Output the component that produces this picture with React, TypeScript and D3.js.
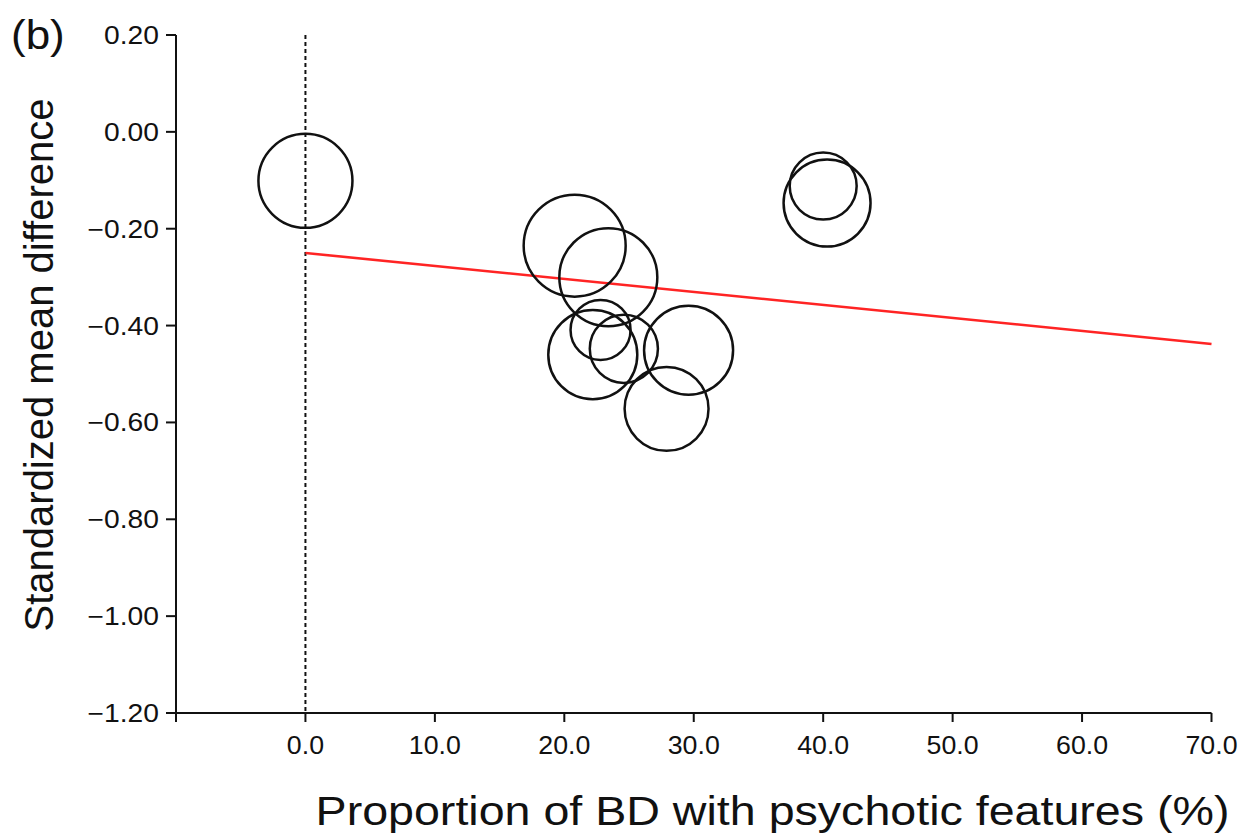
import React from "react";
import * as d3 from "d3";

const xTicks = [0, 10, 20, 30, 40, 50, 60, 70];
const yTicks = [0.2, 0, -0.2, -0.4, -0.6, -0.8, -1.0, -1.2];

// studies: proportion (%) with psychotic features, SMD, weight
const studyX = [0.0, 20.8, 23.4, 22.8, 22.2, 24.6, 29.6, 27.9, 40.0, 40.3];
const studyY = [-0.101, -0.235, -0.300, -0.409, -0.460, -0.448, -0.451, -0.572, -0.112, -0.147];
const studyW = [22.1, 26.0, 24.0, 9.0, 19.8, 11.6, 19.8, 17.6, 11.2, 18.9];

// meta-regression line
const regX = [0, 70];
const regY = [-0.25, -0.438];

const W = 1250;
const H = 836;

export default function App() {
  const x = d3.scaleLinear().domain([-10, 70]).range([176, 1211.5]);
  const y = d3.scaleLinear().domain([0.2, -1.2]).range([35, 713]);
  const r = d3.scaleSqrt().domain([0, 26]).range([0, 51]);
  const line = d3
    .line<number>()
    .x((_, i) => x(regX[i]))
    .y((d) => y(d));
  const fmtY = (v: number) => (v < 0 ? "\u2212" + Math.abs(v).toFixed(2) : v.toFixed(2));
  const font = "'Liberation Sans', Arial, Helvetica, sans-serif";

  return (
    <svg
      width={W}
      height={H}
      style={{ position: "absolute", left: 0, top: 0, background: "#fff" }}
      fontFamily={font}
    >
      <rect width={W} height={H} fill="#fff" />
      <g transform={`translate(11, 49) scale(1.1, 1)`}>
        <text x={0} y={0} fontSize={40} fill="#111">(b)</text>
      </g>

      {/* y axis */}
      <line x1={x(-10)} x2={x(-10)} y1={y(0.2)} y2={y(-1.2)} stroke="#111" strokeWidth={2} />
      {yTicks.map((t) => (
        <g key={"y" + t}>
          <line x1={x(-10) - 10} x2={x(-10)} y1={y(t)} y2={y(t)} stroke="#111" strokeWidth={2} />
          <g transform={`translate(159, ${y(t)}) scale(1.13, 1)`}>
            <text x={0} y={0} dy="0.36em" textAnchor="end" fontSize={25} fill="#111">
              {fmtY(t)}
            </text>
          </g>
        </g>
      ))}

      {/* x axis */}
      <line x1={x(-10)} x2={x(70)} y1={y(-1.2)} y2={y(-1.2)} stroke="#111" strokeWidth={2} />
      <line x1={x(-10)} x2={x(-10)} y1={y(-1.2)} y2={y(-1.2) + 9} stroke="#111" strokeWidth={2} />
      {xTicks.map((t) => (
        <g key={"x" + t}>
          <line x1={x(t)} x2={x(t)} y1={y(-1.2)} y2={y(-1.2) + 9} stroke="#111" strokeWidth={2} />
          <g transform={`translate(${x(t)}, 754) scale(1.07, 1)`}>
            <text x={0} y={0} textAnchor="middle" fontSize={25} fill="#111">
              {t.toFixed(1)}
            </text>
          </g>
        </g>
      ))}

      {/* dashed reference at 0 */}
      <line
        x1={x(0)}
        x2={x(0)}
        y1={y(0.2)}
        y2={y(-1.2)}
        stroke="#111"
        strokeWidth={2}
        strokeDasharray="4,3"
      />

      {/* regression line */}
      <path d={line(regY) || ""} fill="none" stroke="#ff2424" strokeWidth={2.5} />

      {/* study bubbles */}
      {studyX.map((sxv, i) => (
        <circle
          key={"c" + i}
          cx={x(sxv)}
          cy={y(studyY[i])}
          r={r(studyW[i])}
          fill="none"
          stroke="#111"
          strokeWidth={2.5}
        />
      ))}

      {/* axis titles */}
      <g transform={`translate(772.5, 825) scale(1.165, 1)`}>
        <text x={0} y={0} textAnchor="middle" fontSize={40} fill="#111">
          Proportion of BD with psychotic features (%)
        </text>
      </g>
      <text
        transform={`translate(53, 365) rotate(-90)`}
        textAnchor="middle"
        fontSize={40}
        fill="#111"
      >
        Standardized mean difference
      </text>
    </svg>
  );
}
